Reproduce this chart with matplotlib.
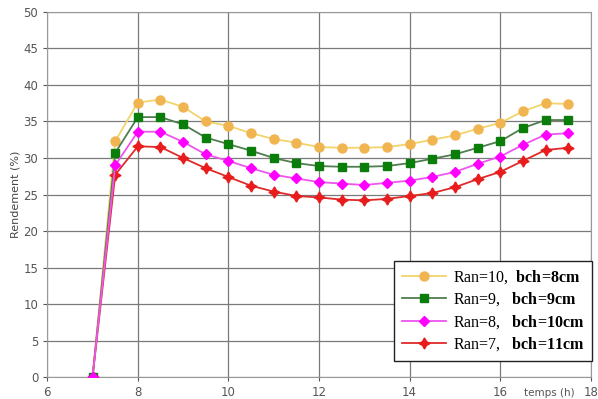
import matplotlib
matplotlib.use("Agg")
import matplotlib.pyplot as plt

plt.rcParams['mathtext.fontset'] = 'custom'
plt.rcParams['mathtext.rm'] = 'Liberation Serif'
plt.rcParams['mathtext.bf'] = 'Liberation Serif:bold'

temps = [7, 7.5, 8, 8.5, 9, 9.5, 10, 10.5, 11, 11.5, 12, 12.5, 13, 13.5, 14,
         14.5, 15, 15.5, 16, 16.5, 17, 17.5]
ran10 = [0, 32.3, 37.6, 38.0, 37.0, 35.0, 34.4, 33.4, 32.6, 32.1, 31.5, 31.4,
         31.4, 31.5, 31.9, 32.5, 33.1, 34.0, 34.8, 36.4, 37.5, 37.4]
ran9 = [0, 30.7, 35.6, 35.6, 34.6, 32.8, 31.9, 31.0, 30.0, 29.3, 28.9, 28.8,
        28.8, 28.9, 29.3, 29.9, 30.5, 31.4, 32.3, 34.1, 35.2, 35.2]
ran8 = [0, 29.0, 33.6, 33.6, 32.2, 30.5, 29.6, 28.6, 27.7, 27.2, 26.7, 26.5,
        26.3, 26.6, 26.9, 27.4, 28.1, 29.2, 30.2, 31.8, 33.2, 33.4]
ran7 = [0, 27.7, 31.6, 31.5, 30.0, 28.6, 27.4, 26.2, 25.4, 24.8, 24.6, 24.3,
        24.2, 24.4, 24.8, 25.2, 26.0, 27.1, 28.1, 29.6, 31.1, 31.4]
labels = ["Ran=10,  $\\mathbf{bch\\!=\\!8cm}$",
          "Ran=9,   $\\mathbf{bch\\!=\\!9cm}$",
          "Ran=8,   $\\mathbf{bch\\!=\\!10cm}$",
          "Ran=7,   $\\mathbf{bch\\!=\\!11cm}$"]
xticks = [6, 8, 10, 12, 14, 16, 18]
yticks = [0, 5, 10, 15, 20, 25, 30, 35, 40, 45, 50]

fig = plt.figure(figsize=(5.98, 3.99), dpi=100)
ax = fig.add_axes([0.079, 0.055, 0.909, 0.915])

styles = [
    (ran10, '#f2d46a', '#f0b550', 'o', 6.5, 2),
    (ran9, '#4f7d4f', '#0b7d0b', 's', 6, 3),
    (ran8, '#ee55ee', '#ff00ff', 'D', 5.5, 5),
    (ran7, '#e02a2a', '#e81c1c', (4, 1, 0), 8, 4),
]
handles = []
for (vals, lc, mc, mk, ms, z), lab in zip(styles, labels):
    ln, = ax.plot(temps, vals, color=lc, lw=1.3, marker=mk, markersize=ms,
                  markerfacecolor=mc, markeredgecolor=mc, zorder=z, label=lab)
    handles.append(ln)

ax.set_xlim(6, 18)
ax.set_ylim(0, 50)
ax.set_xticks(xticks)
ax.set_yticks(yticks)
ax.grid(True, color='#7a7a7a', lw=0.9)
ax.set_axisbelow(True)
for s in ax.spines.values():
    s.set_color('#999999')
ax.tick_params(colors='#555555', labelsize=8.5, length=3)
for t in ax.get_xticklabels() + ax.get_yticklabels():
    t.set_color('#555555')
ax.set_ylabel('Rendement (%)', fontsize=8, color='#444444', labelpad=2)
ax.text(17.65, -2.2, 'temps (h)', fontsize=7.5, color='#555555',
        ha='right', va='center')

leg = ax.legend(handles=handles, loc='lower right', bbox_to_anchor=(1.002, 0.045),
                prop={'family': 'Liberation Serif', 'size': 11.5},
                fancybox=False, edgecolor='#222222', framealpha=1,
                handlelength=2.8, borderpad=0.45, labelspacing=0.3,
                handletextpad=0.4, borderaxespad=0.0)
leg.get_frame().set_linewidth(1.0)

fig.savefig('out.png', dpi=100)
